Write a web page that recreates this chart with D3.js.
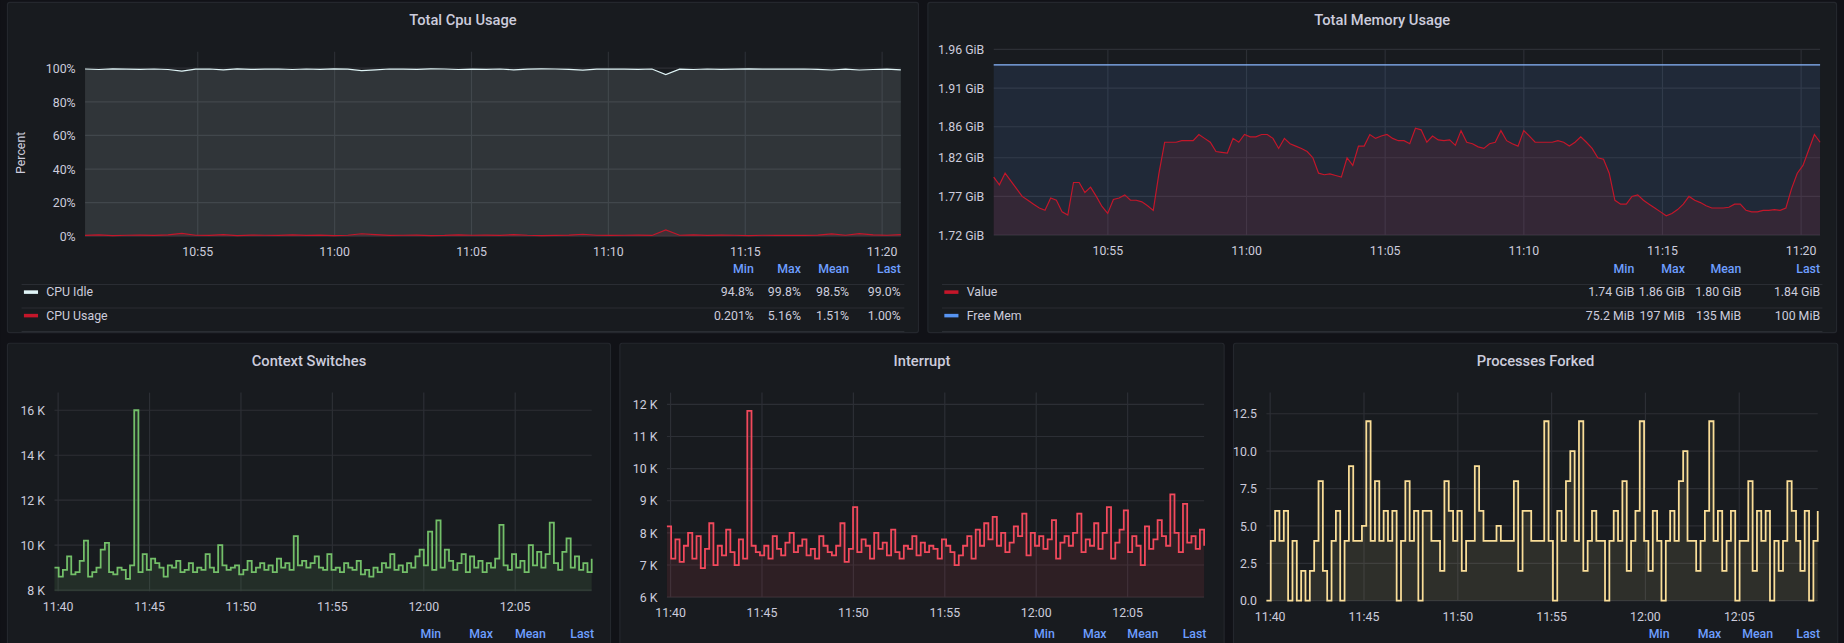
<!DOCTYPE html>
<html>
  <head>
    <script type="text/javascript" src="https://cdn.jsdelivr.net/npm/d3@7/dist/d3.min.js"></script>
    <style>
      body { margin: 0; background: #111217; overflow: hidden; }
      text { font-family: Roboto, "Noto Sans", sans-serif; }
    </style>
  </head>
  <body>
  <script type='text/javascript'>

    // ---- data ----
    var cpuIdle = [99.5,99.2,99.6,99.4,99.3,99.5,99.2,98.3,99.4,99.5,99.0,99.6,99.3,99.4,99.5,99.2,99.5,99.3,99.6,99.4,98.5,99.0,99.5,99.4,99.3,99.6,99.5,99.2,99.4,99.3,99.5,99.0,99.4,99.6,99.5,99.3,98.8,99.4,99.5,99.4,99.3,99.5,96.2,99.4,99.2,99.5,99.3,99.4,99.6,99.4,99.5,99.4,99.5,99.3,98.9,99.4,98.9,99.2,99.4,99.0];
    var cpuUsage = [0.5,0.8,0.4,0.6,0.7,0.5,0.8,1.7,0.6,0.5,1.0,0.4,0.7,0.6,0.5,0.8,0.5,0.7,0.4,0.6,1.5,1.0,0.5,0.6,0.7,0.4,0.5,0.8,0.6,0.7,0.5,1.0,0.6,0.4,0.5,0.7,1.2,0.6,0.5,0.6,0.7,0.5,3.8,0.6,0.8,0.5,0.7,0.6,0.4,0.6,0.5,0.6,0.5,0.7,1.4,0.6,1.6,0.8,0.6,1.0];
    var memValue = [1.795,1.785,1.80,1.79,1.78,1.77,1.765,1.76,1.755,1.752,1.768,1.765,1.75,1.746,1.788,1.788,1.775,1.782,1.77,1.757,1.748,1.766,1.768,1.772,1.765,1.765,1.763,1.758,1.752,
      1.80,1.84,1.84,1.84,1.842,1.842,1.842,1.85,1.845,1.84,1.828,1.827,1.826,1.845,1.84,1.85,1.847,1.847,1.85,1.85,1.845,1.832,1.845,1.838,1.835,1.832,1.828,1.82,1.80,1.798,1.799,1.797,1.795,1.82,1.81,1.835,1.835,1.85,1.845,1.848,1.85,1.845,1.842,1.842,1.838,1.858,1.856,1.84,1.848,1.843,1.842,1.843,1.836,1.855,1.84,1.838,1.834,1.832,1.838,1.84,1.855,1.842,1.838,1.835,1.855,1.848,1.84,1.84,1.84,1.84,1.842,1.84,1.835,1.84,1.847,1.84,1.832,1.82,1.818,
      1.80,1.765,1.76,1.76,1.77,1.772,1.765,1.76,1.755,1.75,1.745,1.748,1.753,1.76,1.77,1.765,1.762,1.758,1.755,1.755,1.755,1.756,1.76,1.76,1.752,1.75,1.75,1.752,1.752,1.753,1.752,1.755,
      1.78,1.80,1.81,1.83,1.85,1.84];
    var memTotal = 1.94;
    var ctxSwitches = [9.0,8.6,8.9,9.5,8.7,8.8,9.3,10.2,8.6,8.8,9.0,9.8,10.1,8.8,8.7,9.0,8.9,8.5,9.1,16.0,8.8,9.6,8.9,9.4,9.2,9.0,8.6,9.1,9.0,9.3,8.8,8.9,9.2,8.8,9.0,8.9,9.6,9.0,8.8,10.0,9.1,8.9,9.0,9.1,8.7,8.9,9.3,8.8,9.0,9.2,8.9,9.1,8.8,9.4,9.0,9.2,8.9,10.4,9.1,9.3,9.0,9.2,9.5,9.0,8.9,9.6,8.9,9.0,8.8,9.2,9.0,8.9,9.3,8.7,8.9,8.6,9.0,8.8,9.2,9.0,9.6,8.9,9.1,8.8,9.2,9.0,9.5,9.8,9.1,10.6,8.9,11.1,9.0,9.8,9.3,8.9,9.2,9.6,8.8,9.5,9.0,9.3,8.8,9.2,9.0,9.4,10.9,9.1,8.9,9.6,9.0,9.3,8.8,10.0,9.1,9.7,9.0,9.6,11.0,9.2,8.9,9.7,10.3,9.0,9.5,8.9,9.2,8.8,9.4];
    var interrupts = [8.2,7.2,7.8,7.1,7.6,8.0,7.2,7.9,6.9,7.5,8.3,7.0,7.6,7.3,8.1,7.4,7.0,7.8,7.2,11.8,7.6,7.4,7.3,7.6,7.2,7.9,7.5,7.3,7.7,8.0,7.4,7.6,7.8,7.3,7.5,7.2,7.9,7.6,7.4,7.3,7.6,8.3,7.1,7.5,8.8,7.4,7.8,7.6,7.2,8.0,7.5,7.7,7.3,8.1,7.4,7.2,7.6,7.5,7.9,7.3,7.7,7.4,7.6,7.5,7.2,7.8,7.6,7.4,7.0,7.3,7.6,7.9,7.2,8.1,7.6,8.3,7.8,8.5,7.6,8.0,7.4,7.7,8.2,7.9,8.6,7.3,8.0,7.6,7.9,7.5,7.8,8.4,7.2,7.7,7.9,7.6,8.0,8.6,7.4,7.8,7.6,8.3,7.5,8.0,8.8,7.2,7.7,8.1,8.7,7.4,7.9,7.6,7.0,8.2,7.5,7.8,8.4,7.9,7.6,9.2,8.0,7.4,8.9,7.7,7.9,7.5,8.1,7.6];
    var forked = [0,4,6,4,6,0,4,0,2,0,2,4,8,2,0,4,6,0,4,9,4,4,5,12,4,8,4,6,4,6,0,4,8,4,6,0,6,6,4,4,2,8,6,4,6,2,4,4,9,6,4,4,4,5,4,4,4,8,2,6,6,4,4,4,12,4,0,6,4,8,10,4,12,2,4,6,4,4,0,4,6,4,8,2,4,6,12,4,2,6,4,0,4,6,4,8,10,4,4,2,4,6,12,4,6,2,4,6,0,4,4,8,2,6,4,6,0,4,2,4,8,6,4,2,6,0,4,6];

    var cpuTicks = [0, 20, 40, 60, 80, 100];
    var memTicks = [1.72, 1.77, 1.82, 1.86, 1.91, 1.96];
    var memTickLabels = ["1.72 GiB","1.77 GiB","1.82 GiB","1.86 GiB","1.91 GiB","1.96 GiB"];
    var ctxTicks = [8, 10, 12, 14, 16];
    var intTicks = [6, 7, 8, 9, 10, 11, 12];
    var forkTicks = [0, 2.5, 5, 7.5, 10, 12.5];

    var cpuLegend = [["CPU Idle", "#e0f5f7", ["94.8%","99.8%","98.5%","99.0%"]],
                     ["CPU Usage", "#c4162a", ["0.201%","5.16%","1.51%","1.00%"]]];
    var memLegend = [["Value", "#c4162a", ["1.74 GiB","1.86 GiB","1.80 GiB","1.84 GiB"]],
                     ["Free Mem", "#5794f2", ["75.2 MiB","197 MiB","135 MiB","100 MiB"]]];

    function t(h, m, s) { return new Date(2021, 0, 1, h, m, s || 0); }
    var topStart = t(10, 50, 53), topEnd = t(11, 20, 41);
    var botStart = t(11, 39, 48), botEnd = t(12, 9, 11);

    function times(n, a, b) {
      var out = [];
      for (var i = 0; i < n; i++) out.push(new Date(+a + (b - a) * i / (n - 1)));
      return out;
    }

    var svg = d3.select("body").append("svg")
      .attr("width", 1844).attr("height", 643)
      .attr("viewBox", "0 0 1568 547");

    svg.append("rect").attr("width", 1568).attr("height", 547).attr("fill", "#111217");

    function panel(o) {
      var g = svg.append("g");
      g.append("rect").attr("x", o.px).attr("y", o.py).attr("width", o.pw).attr("height", o.ph)
        .attr("rx", 2).attr("fill", "#181b1f").attr("stroke", "#24272d");
      g.append("text").attr("x", o.px + o.pw / 2).attr("y", o.py + 19)
        .attr("text-anchor", "middle").attr("fill", "#ccccdc").attr("font-size", 12.5)
        .attr("font-weight", 500).text(o.title);

      var x = d3.scaleTime().domain(o.xdom).range([o.x0, o.x1]);
      var y = d3.scaleLinear().domain(o.ydom).range([o.y0, o.y1]);

      // grid
      var xt = d3.timeMinute.every(5).range(o.xdom[0], o.xdom[1]);
      g.selectAll(null).data(xt).enter().append("line")
        .attr("x1", d => x(d)).attr("x2", d => x(d)).attr("y1", o.gridTop).attr("y2", o.y0)
        .attr("stroke", "#2c2f35");
      g.selectAll(null).data(o.yticks).enter().append("line")
        .attr("x1", o.x0).attr("x2", o.x1).attr("y1", d => y(d)).attr("y2", d => y(d))
        .attr("stroke", "#2c2f35");
      g.selectAll(null).data(xt).enter().append("text")
        .attr("x", d => x(d)).attr("y", o.y0 + 17).attr("text-anchor", "middle")
        .attr("fill", "#ccccdc").attr("font-size", 10.5).text(d3.timeFormat("%H:%M"));
      g.selectAll(null).data(o.yticks).enter().append("text")
        .attr("x", o.x0 - 8).attr("y", d => y(d) + 4).attr("text-anchor", "end")
        .attr("fill", "#ccccdc").attr("font-size", 10.5).text((d, i) => o.ylab(d, i));

      o.series.forEach(function (s) {
        var ts = times(s.values.length, o.xdom[0], o.xdom[1]);
        var pts = s.values.map((v, i) => [ts[i], v]);
        var area = d3.area().x(d => x(d[0])).y0(y(o.ydom[0])).y1(d => y(d[1])).curve(s.curve);
        var line = d3.line().x(d => x(d[0])).y(d => y(d[1])).curve(s.curve);
        g.append("path").datum(pts).attr("d", area).attr("fill", s.fill);
        g.append("path").datum(pts).attr("d", line).attr("fill", "none")
          .attr("stroke", s.color).attr("stroke-width", s.width);
      });

      // legend header
      var cols = o.legendCols;
      ["Min", "Max", "Mean", "Last"].forEach(function (h, i) {
        g.append("text").attr("x", cols[i]).attr("y", o.legendY).attr("text-anchor", "end")
          .attr("fill", "#6e9fff").attr("font-size", 10.5).attr("font-weight", 500).text(h);
      });
      (o.legend || []).forEach(function (r, j) {
        var ry = o.legendY + 20 + j * 20;
        g.append("line").attr("x1", o.px + 12).attr("x2", o.px + o.pw - 12)
          .attr("y1", ry - 10).attr("y2", ry - 10).attr("stroke", "#2a2d33");
        g.append("rect").attr("x", o.px + 14).attr("y", ry - 5).attr("width", 12).attr("height", 3)
          .attr("fill", r[1]);
        g.append("text").attr("x", o.px + 33).attr("y", ry).attr("fill", "#ccccdc")
          .attr("font-size", 10.5).text(r[0]);
        r[2].forEach(function (v, i) {
          g.append("text").attr("x", cols[i]).attr("y", ry).attr("text-anchor", "end")
            .attr("fill", "#ccccdc").attr("font-size", 10.5).text(v);
        });
        if (j == o.legend.length - 1)
          g.append("line").attr("x1", o.px + 12).attr("x2", o.px + o.pw - 12)
            .attr("y1", ry + 10).attr("y2", ry + 10).attr("stroke", "#2a2d33");
      });
      return g;
    }

    var cpu = panel({
      px: 6, py: 2, pw: 775, ph: 281, title: "Total Cpu Usage",
      x0: 72, x1: 766, y0: 201, y1: 58, gridTop: 44,
      xdom: [topStart, topEnd], ydom: [0, 100], yticks: cpuTicks,
      ylab: d => d + "%",
      series: [
        { values: cpuIdle, color: "#e0f5f7", fill: "rgba(224,245,247,0.12)", width: 1, curve: d3.curveLinear },
        { values: cpuUsage, color: "#c4162a", fill: "rgba(196,22,42,0.1)", width: 1, curve: d3.curveLinear }
      ],
      legendY: 232, legendCols: [641, 681, 722, 766], legend: cpuLegend
    });
    cpu.append("text").attr("transform", "translate(21,130) rotate(-90)")
      .attr("text-anchor", "middle").attr("fill", "#ccccdc").attr("font-size", 10.5).text("Percent");

    panel({
      px: 789, py: 2, pw: 773, ph: 281, title: "Total Memory Usage",
      x0: 845, x1: 1548, y0: 200, y1: 42, gridTop: 42,
      xdom: [topStart, topEnd], ydom: [1.72, 1.96], yticks: memTicks,
      ylab: (d, i) => memTickLabels[i],
      series: [
        { values: memValue.map(() => memTotal), color: "#8ab8ff", fill: "rgba(87,148,242,0.12)", width: 1, curve: d3.curveLinear },
        { values: memValue, color: "#c4162a", fill: "rgba(196,22,42,0.12)", width: 1, curve: d3.curveLinear }
      ],
      legendY: 232, legendCols: [1390, 1433, 1481, 1548], legend: memLegend
    });

    panel({
      px: 6, py: 292, pw: 513, ph: 270, title: "Context Switches",
      x0: 46, x1: 503, y0: 503, y1: 349, gridTop: 334,
      xdom: [botStart, botEnd], ydom: [7.95, 16], yticks: ctxTicks,
      ylab: d => d + " K",
      series: [{ values: ctxSwitches, color: "#73bf69", fill: "rgba(115,191,105,0.12)", width: 1.5, curve: d3.curveStepAfter }],
      legendY: 543, legendCols: [375, 419, 464, 505]
    });

    panel({
      px: 527, py: 292, pw: 514, ph: 270, title: "Interrupt",
      x0: 567, x1: 1024, y0: 508, y1: 344, gridTop: 334,
      xdom: [botStart, botEnd], ydom: [6, 12], yticks: intTicks,
      ylab: d => d + " K",
      series: [{ values: interrupts, color: "#f2495c", fill: "rgba(242,73,92,0.1)", width: 1.5, curve: d3.curveStepAfter }],
      legendY: 543, legendCols: [897, 941, 985, 1026]
    });

    panel({
      px: 1049, py: 292, pw: 514, ph: 270, title: "Processes Forked",
      x0: 1077, x1: 1546, y0: 511, y1: 352, gridTop: 334,
      xdom: [botStart, botEnd], ydom: [0, 12.5], yticks: forkTicks,
      ylab: d => d.toFixed(1),
      series: [{ values: forked, color: "#fade98", fill: "rgba(250,222,152,0.1)", width: 1.5, curve: d3.curveStepAfter }],
      legendY: 543, legendCols: [1420, 1464, 1508, 1548]
    });

  </script>
  </body>
</html>
